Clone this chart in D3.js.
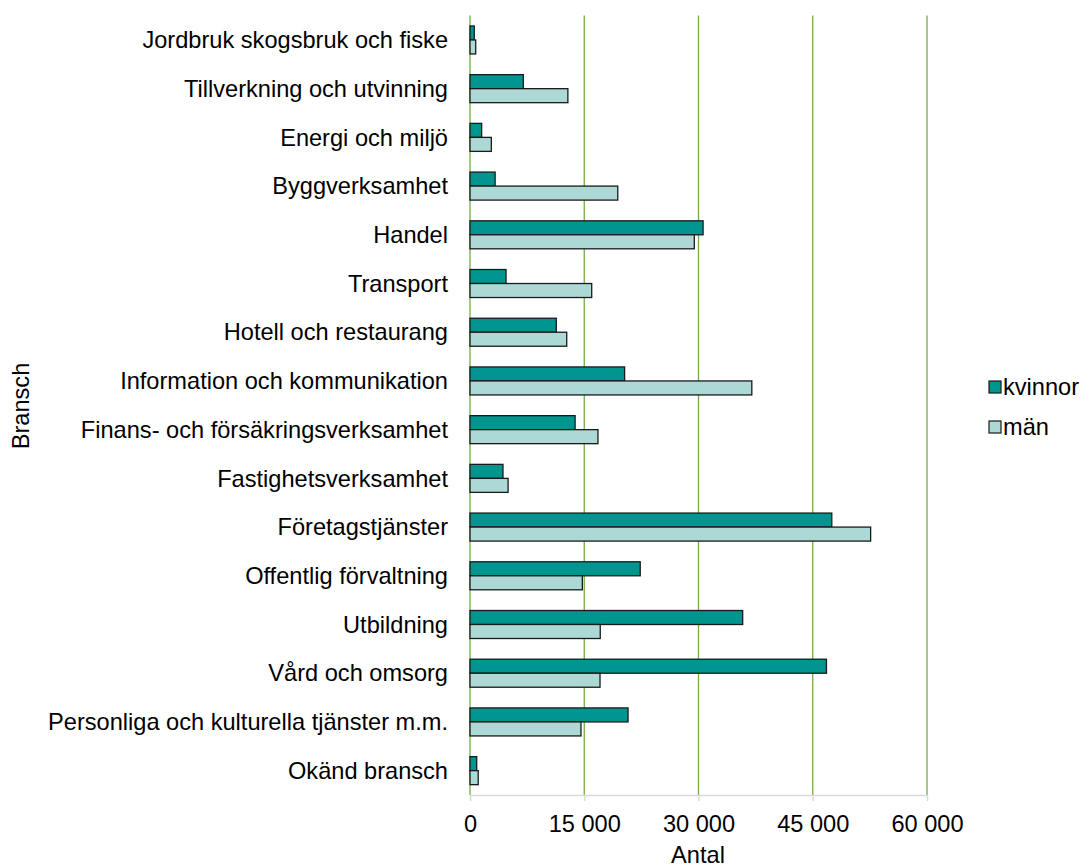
<html>
<script src="https://d3js.org/d3.v7.min.js"></script>
<body style="margin:0;background:#fff">
<svg height="867" width="1086" id="chart"></svg>
<script>

// Categories (branscher), top to bottom
var categories = [
  "Jordbruk skogsbruk och fiske",
  "Tillverkning och utvinning",
  "Energi och miljö",
  "Byggverksamhet",
  "Handel",
  "Transport",
  "Hotell och restaurang",
  "Information och kommunikation",
  "Finans- och försäkringsverksamhet",
  "Fastighetsverksamhet",
  "Företagstjänster",
  "Offentlig förvaltning",
  "Utbildning",
  "Vård och omsorg",
  "Personliga och kulturella tjänster m.m.",
  "Okänd bransch"
];

// values
var kvinnor = [560, 7000, 1530, 3300, 30600, 4730, 11330, 20300, 13800, 4330,
               47500, 22350, 35800, 46800, 20750, 880];
var man = [750, 12850, 2800, 19400, 29450, 15980, 12700, 37000, 16800, 5000,
           52600, 14750, 17100, 17070, 14570, 1080];

var seriesNames = ["kvinnor", "män"];
var seriesColors = ["#00968f", "#acd9d5"];
var xTicks = [0, 15000, 30000, 45000, 60000];

var svg = d3.select("#chart");
var font = "Liberation Sans, Arial, sans-serif";
var fontSize = "23.6px";

// plot area edges
var plotLeft = 470, plotRight = 927, plotTop = 15.6, plotBottom = 795;

var x = d3.scaleLinear().domain([0, 60000]).range([plotLeft, plotRight]);

var y = d3.scaleBand()
  .domain(categories)
  .range([plotTop, plotBottom])
  .paddingInner(0.425)
  .paddingOuter(0.2125);

var ySub = d3.scaleBand().domain(seriesNames).range([0, y.bandwidth()]);

// green vertical gridlines
svg.append("g").selectAll("line")
  .data(xTicks)
  .enter().append("line")
  .attr("x1", function(d) { return x(d); })
  .attr("x2", function(d) { return x(d); })
  .attr("y1", plotTop)
  .attr("y2", plotBottom)
  .style("stroke", "#70ad47")
  .style("stroke-width", 1.3);

// bottom axis
var xAxis = d3.axisBottom(x)
  .tickValues(xTicks)
  .tickSize(6)
  .tickPadding(14)
  .tickFormat(function(d) { return d3.format(",")(d).replace(/,/g, " "); });

var gx = svg.append("g")
  .attr("transform", "translate(0," + plotBottom + ")")
  .call(xAxis);
gx.select(".domain").style("stroke", "#d9d9d9").style("stroke-width", 1.3);
gx.selectAll(".tick line").style("stroke", "#d9d9d9").style("stroke-width", 1.3);
gx.selectAll(".tick text")
  .style("font-family", font)
  .style("font-size", fontSize)
  .style("fill", "#000");

// category labels
svg.append("g").selectAll("text")
  .data(categories)
  .enter().append("text")
  .attr("x", 448)
  .attr("y", function(d) { return y(d) + y.bandwidth() / 2; })
  .attr("dy", "0.35em")
  .attr("text-anchor", "end")
  .style("font-family", font)
  .style("font-size", fontSize)
  .text(function(d) { return d; });

// bars
var rows = categories.map(function(c, i) {
  return {cat: c, vals: [kvinnor[i], man[i]]};
});

var rowG = svg.append("g").selectAll("g")
  .data(rows)
  .enter().append("g")
  .attr("transform", function(d) { return "translate(0," + y(d.cat) + ")"; });

rowG.selectAll("rect")
  .data(function(d) { return d.vals.map(function(v, j) { return {v: v, s: seriesNames[j], j: j}; }); })
  .enter().append("rect")
  .attr("x", x(0))
  .attr("y", function(d) { return ySub(d.s); })
  .attr("width", function(d) { return x(d.v) - x(0); })
  .attr("height", ySub.bandwidth())
  .style("fill", function(d) { return seriesColors[d.j]; })
  .style("stroke", "#1a1a1a")
  .style("stroke-width", 1.3);

// axis titles
svg.append("text")
  .attr("x", 698)
  .attr("y", 863)
  .attr("text-anchor", "middle")
  .style("font-family", font)
  .style("font-size", fontSize)
  .text("Antal");

svg.append("text")
  .attr("transform", "translate(29," + 406 + ") rotate(-90)")
  .attr("text-anchor", "middle")
  .style("font-family", font)
  .style("font-size", fontSize)
  .text("Bransch");

// legend
var legend = svg.append("g").selectAll("g")
  .data(seriesNames)
  .enter().append("g")
  .attr("transform", function(d, i) { return "translate(989," + (381 + i * 40) + ")"; });

legend.append("rect")
  .attr("width", 12)
  .attr("height", 12)
  .style("fill", function(d, i) { return seriesColors[i]; })
  .style("stroke", "#1a1a1a")
  .style("stroke-width", 1.2);

legend.append("text")
  .attr("x", 14)
  .attr("y", 6)
  .attr("dy", "0.35em")
  .style("font-family", font)
  .style("font-size", fontSize)
  .text(function(d) { return d; });

</script>
</body>
</html>
